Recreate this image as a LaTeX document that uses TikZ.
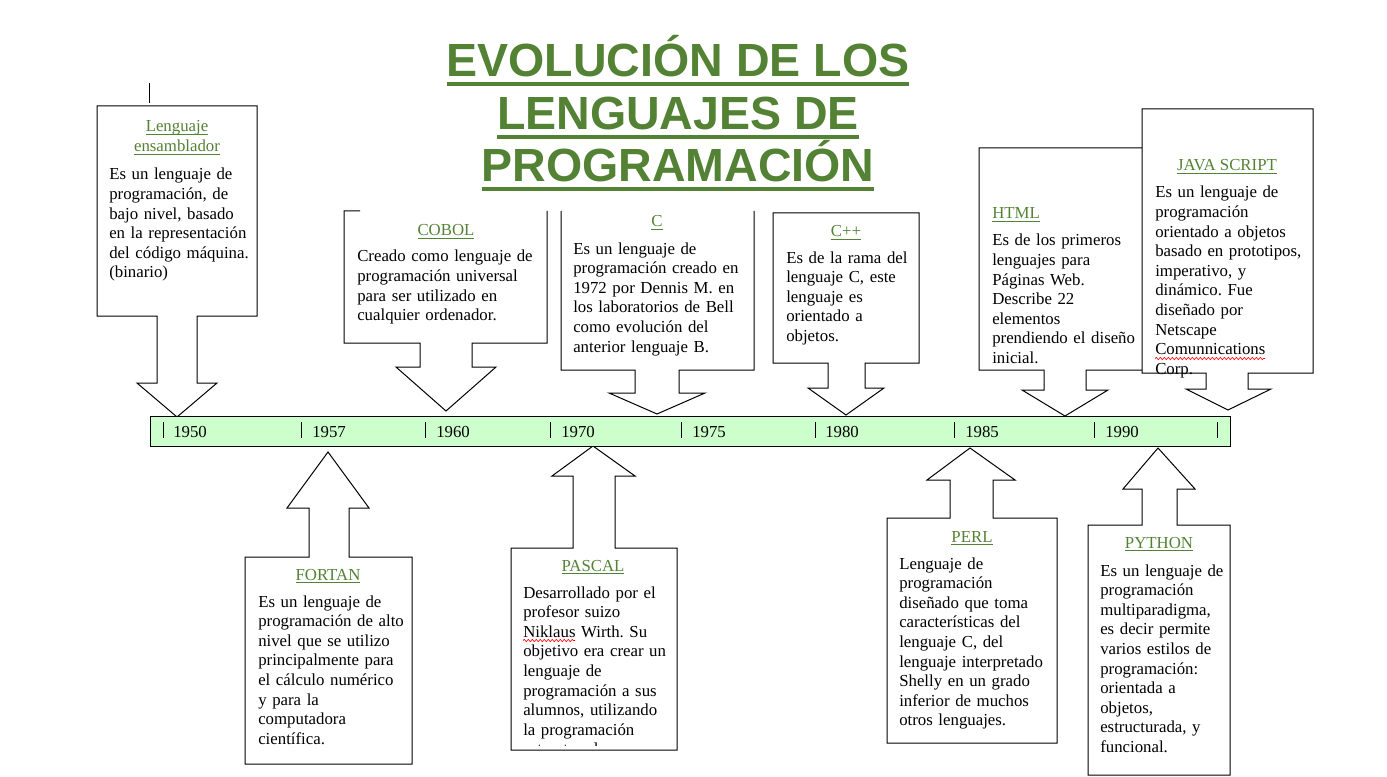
\documentclass[tikz,border=0pt]{standalone}
\usepackage{fontspec}
\setmainfont{Liberation Serif}
\newfontfamily\titlefont{Liberation Sans}
\usetikzlibrary{decorations.pathmorphing}
\definecolor{tgreen}{HTML}{548235}
\definecolor{barfill}{HTML}{CCFFCC}
\frenchspacing
\newsavebox\myb
\newcommand\gul[1]{\sbox\myb{#1}\rlap{\rule[-2.4pt]{\wd\myb}{0.6pt}}\usebox\myb}
\newcommand\bigul[1]{\sbox\myb{#1}\rlap{\rule[-6.9pt]{\wd\myb}{3pt}}\usebox\myb}
\newcommand\bodyfont{\fontsize{12.6}{14.7}\selectfont\frenchspacing}
\tikzset{
  callout/.style={draw=black, line width=0.75pt, fill=white, line join=miter},
  body/.style={anchor=base west, inner sep=0, align=left, text width=190pt, font=\bodyfont, yshift=-1.5pt},
  ttl/.style={anchor=base, inner sep=0, text=tgreen, font=\bodyfont, yshift=-1.5pt},
  year/.style={anchor=base west, inner sep=0, font=\bodyfont},
  tick/.style={line width=0.75pt},
  spell/.style={red, line width=0.5pt, decorate, decoration={snake, amplitude=0.8pt, segment length=3pt}},
  bigtitle/.style={anchor=base, inner sep=0, text=tgreen, font=\titlefont\bfseries\fontsize{34.9}{40}\selectfont},
}
\begin{document}
\begin{tikzpicture}[x=0.75pt, y=-0.75pt]
\useasboundingbox (0,0) rectangle (1387,777);

% stray mark
\draw[line width=0.75pt] (149,83) -- (149,103);

% ---- top callouts ----
\draw[callout] (97,106) -- (257,106) -- (257,316) -- (197,316) -- (197,383) -- (217,383) -- (177,417) -- (137,383) -- (157,383) -- (157,316) -- (97,316) -- cycle;
\draw[line width=0.75pt] (360,211) -- (344,211) -- (344,343) -- (420,343) -- (420,367) -- (396,367) -- (446,411) -- (496,367) -- (472,367) -- (472,343) -- (547,343) -- (547,211);
\draw[line width=0.75pt] (561,211) -- (561,370) -- (635,370) -- (635,393) -- (609,393) -- (657,414) -- (705,393) -- (679,393) -- (679,370) -- (754,370) -- (754,211);
\draw[callout] (773,213) -- (919,213) -- (919,363) -- (865,363) -- (865,388) -- (884,388) -- (846,415) -- (808,388) -- (828,388) -- (828,363) -- (773,363) -- cycle;
\draw[callout] (979,148) -- (1150,148) -- (1150,370) -- (1086,370) -- (1086,390) -- (1108,390) -- (1065,416) -- (1022,390) -- (1044,390) -- (1044,370) -- (979,370) -- cycle;
\draw[callout] (1142,109) -- (1313,109) -- (1313,373) -- (1248,373) -- (1248,389) -- (1271,389) -- (1228,410) -- (1186,389) -- (1206,389) -- (1206,373) -- (1142,373) -- cycle;

% ---- bottom callouts ----
\draw[callout] (245,557) -- (309,557) -- (309,508) -- (287,508) -- (328,452) -- (369,508) -- (349,508) -- (349,557) -- (412,557) -- (412,764) -- (245,764) -- cycle;
\draw[callout] (511,548) -- (573,548) -- (573,476) -- (552,476) -- (593,446) -- (635,476) -- (615,476) -- (615,548) -- (677,548) -- (677,750) -- (511,750) -- cycle;
\draw[callout] (887,518) -- (950,518) -- (950,480) -- (927,480) -- (970,448) -- (1015,480) -- (993,480) -- (993,518) -- (1057,518) -- (1057,743) -- (887,743) -- cycle;
\draw[callout] (1088,525) -- (1142,525) -- (1142,489) -- (1123,489) -- (1158,448) -- (1195,489) -- (1177,489) -- (1177,525) -- (1230,525) -- (1230,775) -- (1088,775) -- cycle;

% ---- timeline bar ----
\draw[line width=0.75pt, fill=barfill] (150,416) rectangle (1230,446);
\foreach \x in {163,301,425,550,681,815,954,1094,1217} \draw[tick] (\x,422) -- (\x,438);
\node[year] (y1950) at (173,437) {1950};
\node[year] (y1957) at (312,437) {1957};
\node[year] (y1960) at (436,437) {1960};
\node[year] (y1970) at (561,437) {1970};
\node[year] (y1975) at (692,437) {1975};
\node[year] (y1980) at (825,437) {1980};
\node[year] (y1985) at (965,437) {1985};
\node[year] (y1990) at (1105,437) {1990};

% ---- main title ----
\node[bigtitle] (t1) at (678,77) {\bigul{EVOLUCIÓN DE LOS}};
\node[bigtitle] (t2) at (678,130) {\bigul{LENGUAJES DE}};
\node[bigtitle] (t3) at (678,182) {\bigul{PROGRAMACIÓN}};

% ---- texts ----
\node[ttl] (ensT1) at (177,130) {\gul{Lenguaje}};
\node[ttl] (ensT2) at (177,150) {\gul{ensamblador}};
\node[body] (ensB) at (109,178) {Es un lenguaje de\\programación, de\\bajo nivel, basado\\en la representación\\del código máquina.\\(binario)};

\node[ttl] (cobT) at (446,234) {\gul{COBOL}};
\node[body] (cobB) at (357,260) {Creado como lenguaje de\\programación universal\\para ser utilizado en\\cualquier ordenador.};

\node[ttl] (cT) at (657,225) {\gul{C}};
\node[body] (cB) at (573,252) {Es un lenguaje de\\programación creado en\\1972 por Dennis M. en\\los laboratorios de Bell\\como evolución del\\anterior lenguaje B.};

\node[ttl] (cppT) at (846,235) {\gul{C++}};
\node[body] (cppB) at (786,261) {Es de la rama del\\lenguaje C, este\\lenguaje es\\orientado a\\objetos.};

\node[ttl, anchor=base west] (htmlT) at (992,217) {\gul{HTML}};
\node[body] (htmlB) at (992,244) {Es de los primeros\\lenguajes para\\Páginas Web.\\Describe 22\\elementos\\prendiendo el diseño\\inicial.};

\node[ttl] (jsT) at (1227,169) {\gul{JAVA SCRIPT}};
\node[body] (jsB) at (1155,196) {Es un lenguaje de\\programación\\orientado a objetos\\basado en prototipos,\\imperativo, y\\dinámico. Fue\\diseñado por\\Netscape\\Comunnications\\Corp.};
\draw[spell] (1155,358.5) -- (1265,358.5);

\node[ttl] (fortT) at (328,578) {\gul{FORTAN}};
\node[body] (fortB) at (258,605) {Es un lenguaje de\\programación de alto\\nivel que se utilizo\\principalmente para\\el cálculo numérico\\y para la\\computadora\\científica.};

\node[ttl] (pasT) at (593,569) {\gul{PASCAL}};
\begin{scope}
\clip (512,549) rectangle (676,745);
\node[body] (pasB) at (523,596) {Desarrollado por el\\profesor suizo\\Niklaus Wirth. Su\\objetivo era crear un\\lenguaje de\\programación a sus\\alumnos, utilizando\\la programación\\estructurada.};
\end{scope}
\draw[spell] (523,640.5) -- (575,640.5);

\node[ttl] (perlT) at (972,540) {\gul{PERL}};
\node[body] (perlB) at (899,567) {Lenguaje de\\programación\\diseñado que toma\\características del\\lenguaje C, del\\lenguaje interpretado\\Shelly en un grado\\inferior de muchos\\otros lenguajes.};

\node[ttl] (pyT) at (1159,546) {\gul{PYTHON}};
\node[body] (pyB) at (1100,574) {Es un lenguaje de\\programación\\multiparadigma,\\es decir permite\\varios estilos de\\programación:\\orientada a\\objetos,\\estructurada, y\\funcional.};
\end{tikzpicture}
\end{document}
